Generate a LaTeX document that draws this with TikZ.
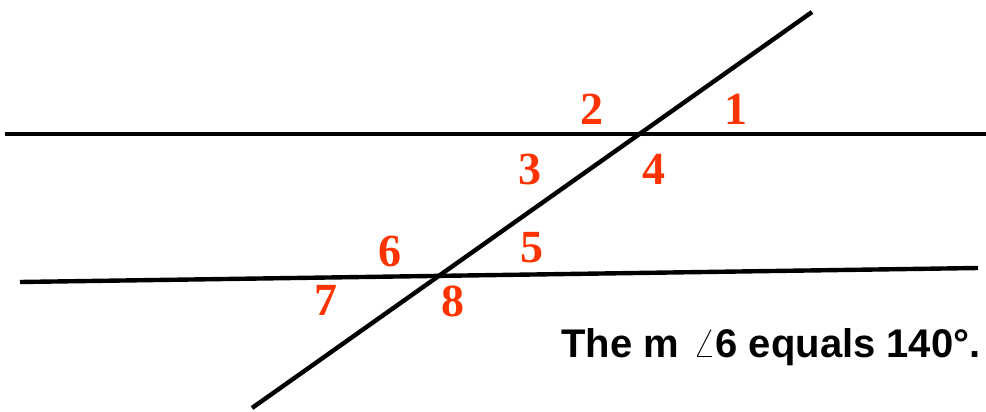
\documentclass[tikz,border=0pt]{standalone}
\usepackage{fontspec}
\setmainfont{Liberation Serif}
\newfontfamily\labelsans{Liberation Sans}
\usepackage{tikz}
\definecolor{anglered}{RGB}{255,51,0}
\tikzset{
    numlabel/.style={text=anglered, font=\fontsize{23}{23}\selectfont\bfseries, inner sep=0pt}
}

\begin{document}
\begin{tikzpicture}[x=0.5pt,y=-0.5pt]

\useasboundingbox (0,0) rectangle (986,412);

% End points
\coordinate (topL) at (5,134);
\coordinate (topR) at (986,134);
\coordinate (botL) at (20,282);
\coordinate (botR) at (978,268);
\coordinate (transA) at (252,408);
\coordinate (transB) at (812,12);

% Lines
\draw[line width=2.2pt] (topL) -- (topR);
\draw[line width=2.2pt] (botL) -- (botR);
\draw[line width=2.2pt] (transA) -- (transB);

% Angle numbers
\node[numlabel] (n1) at (736,109) {1};
\node[numlabel] (n2) at (592,109) {2};
\node[numlabel] (n3) at (530,169) {3};
\node[numlabel] (n4) at (654,169) {4};
\node[numlabel] (n5) at (532,248) {5};
\node[numlabel] (n6) at (390,251) {6};
\node[numlabel] (n7) at (326,300) {7};
\node[numlabel] (n8) at (453,301) {8};

% Statement
\node[anchor=base east, inner sep=0pt, font=\labelsans\fontsize{20}{20}\selectfont\bfseries] (stmt) at (981,357)
    {The m\hspace{7pt}$\angle$6 equals 140\textdegree.};

\end{tikzpicture}
\end{document}
